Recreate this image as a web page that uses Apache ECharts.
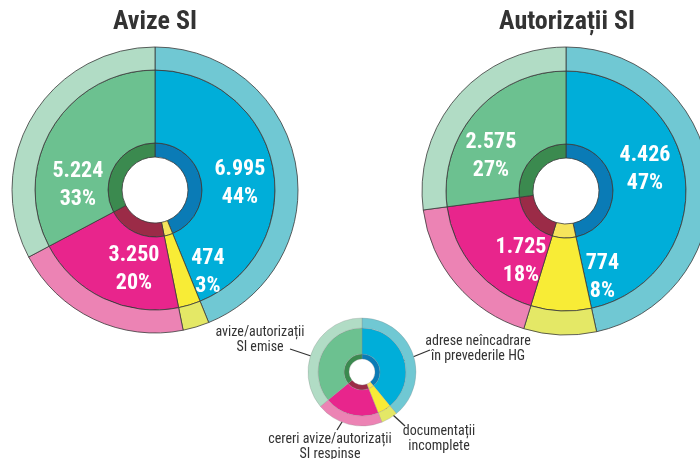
<!DOCTYPE html>
<html>
<head>
<meta charset="utf-8">
<script src="https://cdn.jsdelivr.net/npm/echarts@6/dist/echarts.min.js"></script>
<style>
  html, body { margin: 0; padding: 0; background: #fff; }
  #chart { width: 700px; height: 459px; }
</style>
</head>
<body>
<div id="chart"></div>
<script>
// slice order: clockwise from 12 o'clock
const categories = ['adrese neîncadrare\nîn prevederile HG', 'documentații\nincomplete', 'cereri avize/autorizații\nSI respinse', 'avize/autorizații\nSI emise'];
const avizeValues = [6995, 474, 3250, 5224];
const autorizatiiValues = [4426, 774, 1725, 2575];
const legendShares = [39, 5, 20, 36];   // small key donut

const mainColors = ['#00aed9', '#f8ec36', '#e8258c', '#6cc190'];
const outerColors = ['#70c8d3', '#e4e866', '#ec83b4', '#b1dcc5'];
const innerColors = ['#0a7bb6', '#f6e45c', '#9b2b47', '#3b8a4f'];

const narrow = "'Liberation Sans Narrow', 'Arial Narrow', 'Roboto Condensed', 'Liberation Sans', sans-serif";

function fmt(v) {
  return String(v).replace(/\B(?=(\d{3})+(?!\d))/g, '.');
}

function ring(values, center, radius, colors, border, labelOffsets) {
  return {
    type: 'pie',
    center: center,
    radius: radius,
    startAngle: 90,
    clockwise: true,
    silent: true,
    avoidLabelOverlap: false,
    itemStyle: { borderColor: border.color, borderWidth: border.width },
    label: labelOffsets ? {
      show: true,
      position: 'inside',
      color: '#fff',
      fontFamily: narrow,
      fontWeight: 'bold',
      fontSize: 22,
      lineHeight: 28,
      formatter: p => fmt(p.value) + '\n' + Math.round(p.percent) + '%'
    } : { show: false },
    labelLine: { show: false },
    labelLayout: labelOffsets ? (p => ({ dx: labelOffsets[p.dataIndex][0], dy: labelOffsets[p.dataIndex][1] })) : null,
    data: values.map((v, i) => ({ value: v, name: categories[i], itemStyle: { color: colors[i] } }))
  };
}

function donut(values, center, radii, border, labelOffsets) {
  return [
    ring(values, center, [radii[0], radii[1]], innerColors, border, null),
    ring(values, center, [radii[1], radii[2]], mainColors, border, labelOffsets),
    ring(values, center, [radii[2], radii[3]], outerColors, border, null)
  ];
}

const bigBorder = { color: '#3a3a3a', width: 0.8 };
const smallBorder = { color: '#8a8a8a', width: 0.3 };

const chart = echarts.init(document.getElementById('chart'));

const annot = [
  { text: categories[3], x: 260, y: 340, line: [290, 349, 329, 362] },
  { text: categories[0], x: 478, y: 349, line: [430, 350, 393, 365] },
  { text: categories[2], x: 330, y: 447, line: [337, 430, 352, 406] },
  { text: categories[1], x: 439, y: 439, line: [405, 426, 380, 403] }
];

const graphics = [
  { type: 'text', x: 155, y: 22, style: { text: 'Avize SI', font: "bold 26px " + narrow, fill: '#333', textAlign: 'center', textVerticalAlign: 'middle' } },
  { type: 'text', x: 567, y: 22, style: { text: 'Autorizații SI', font: "bold 26px " + narrow, fill: '#333', textAlign: 'center', textVerticalAlign: 'middle' } }
];
annot.forEach(a => {
  graphics.push({ type: 'text', x: a.x, y: a.y, style: { text: a.text, font: "14px " + narrow, fill: '#333', textAlign: 'center', textVerticalAlign: 'middle', lineHeight: 15 } });
  graphics.push({ type: 'line', shape: { x1: a.line[0], y1: a.line[1], x2: a.line[2], y2: a.line[3] }, style: { stroke: '#333', lineWidth: 1.3 } });
});

chart.setOption({
  animation: false,
  backgroundColor: '#fff',
  series: [
    ...donut(avizeValues, [155, 190], [33, 47, 120, 143], bigBorder, [[0, 10], [28, 0], [16, 1], [-3, 40]]),
    ...donut(autorizatiiValues, [566, 191], [33, 47, 120, 144], bigBorder, [[-7, -12], [40, 0], [21, 15], [-10, 22]]),
    ...donut(legendShares, [362, 372], [13, 18, 44, 54], smallBorder, null)
  ],
  graphic: graphics
});
</script>
</body>
</html>
